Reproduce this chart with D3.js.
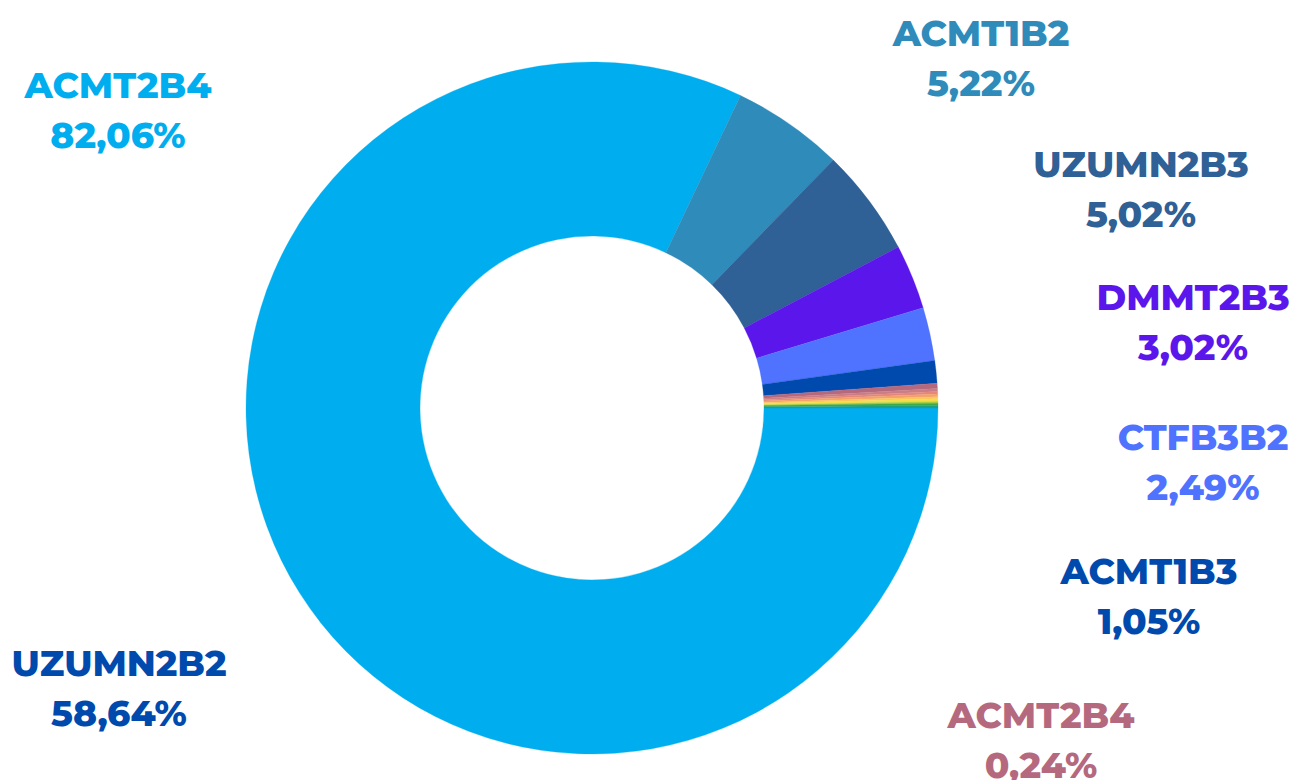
<!DOCTYPE html>
<html>
<head>
<meta charset="utf-8">
<script src="https://cdn.jsdelivr.net/npm/d3@7"></script>
<style>
  html, body { margin: 0; padding: 0; background: #fff; }
  svg { display: block; }
</style>
</head>
<body>
<script>
const width = 1295;
const height = 780;

// slices, clockwise from 3 o'clock
const sliceNames = ['ACMT2B4', 'ACMT1B2', 'UZUMN2B3', 'DMMT2B3', 'CTFB3B2', 'ACMT1B3',
  'ACMT2B4 ', 's8', 's9', 's10', 's11', 's12', 's13', 's14', 's15'];
const sliceValues = [82.06, 5.22, 5.02, 3.02, 2.49, 1.05,
  0.24, 0.14, 0.12, 0.12, 0.10, 0.12, 0.08, 0.10, 0.12];
const sliceColors = ['#00aeef', '#2e8bba', '#2f6096', '#5b17eb', '#4f72ff', '#004aad',
  '#b5697e', '#c97d86', '#e4877a', '#f4a06c', '#fcc45c', '#f5dd48', '#a9cf45', '#3aaa4c', '#1e9f80'];

// labels shown on the chart
const labelNames = ['ACMT2B4', 'ACMT1B2', 'UZUMN2B3', 'DMMT2B3', 'CTFB3B2', 'ACMT1B3', 'UZUMN2B2', 'ACMT2B4'];
const labelValues = ['82,06%', '5,22%', '5,02%', '3,02%', '2,49%', '1,05%', '58,64%', '0,24%'];
const labelColors = ['#00aeef', '#2e8bba', '#2f6096', '#5b17eb', '#4f72ff', '#004aad', '#004aad', '#b5697e'];

const labelX = [118, 981, 1141, 1193, 1203, 1149, 119, 1041];
const labelY = [98, 46, 177, 310, 450, 584, 676, 728];

const cx = 592;
const cy = 408;
const outerR = 346;
const innerR = 172;

const svg = d3.select('body').append('svg')
  .attr('width', width)
  .attr('height', height)
  .attr('viewBox', [0, 0, width, height]);

const data = sliceNames.map((n, i) => ({ name: n, value: sliceValues[i], color: sliceColors[i] }));

const pie = d3.pie()
  .sort(null)
  .value(d => d.value)
  .startAngle(Math.PI / 2)
  .endAngle(Math.PI / 2 + 2 * Math.PI);

const arc = d3.arc()
  .innerRadius(innerR)
  .outerRadius(outerR);

svg.append('g')
  .attr('transform', `translate(${cx},${cy})`)
  .selectAll('path')
  .data(pie(data))
  .join('path')
  .attr('d', arc)
  .attr('fill', d => d.data.color)
  .attr('stroke', d => d.data.color)
  .attr('stroke-width', 0.3);

const labels = svg.append('g')
  .attr('font-family', 'Montserrat, "DejaVu Sans", sans-serif')
  .attr('font-weight', 800)
  .attr('font-size', 36)
  .attr('text-anchor', 'middle')
  .selectAll('text')
  .data(labelNames.map((n, i) => ({ name: n, value: labelValues[i], color: labelColors[i], x: labelX[i], y: labelY[i] })))
  .join('text')
  .attr('fill', d => d.color)
  .attr('x', d => d.x)
  .attr('y', d => d.y);

labels.append('tspan')
  .attr('x', d => d.x)
  .text(d => d.name);

labels.append('tspan')
  .attr('x', d => d.x)
  .attr('dy', 50)
  .text(d => d.value);
</script>
</body>
</html>
